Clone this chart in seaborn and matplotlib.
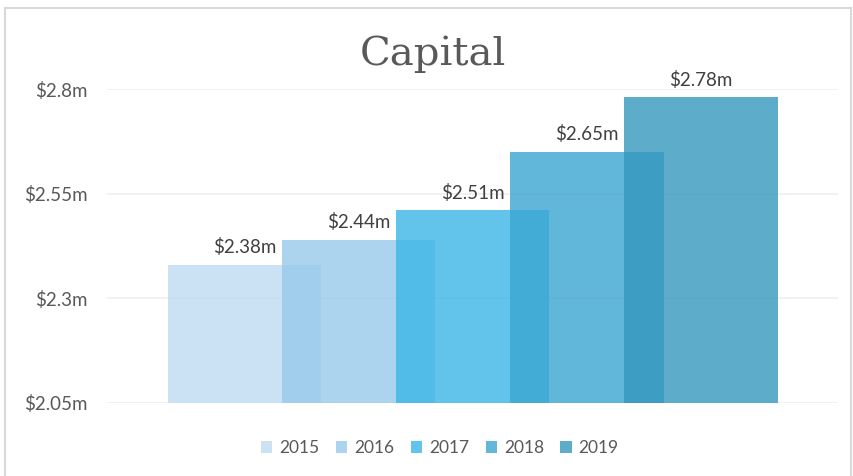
import matplotlib
matplotlib.use("Agg")
import matplotlib.pyplot as plt
import seaborn as sns
import pandas as pd
from matplotlib.patches import Rectangle, Patch

years = ["2015", "2016", "2017", "2018", "2019"]
values = [2.38, 2.44, 2.51, 2.65, 2.78]
labels = ["$2.38m", "$2.44m", "$2.51m", "$2.65m", "$2.78m"]
yticks = [2.05, 2.3, 2.55, 2.8]
ytick_labels = ["$2.05m", "$2.3m", "$2.55m", "$2.8m"]
colors = ["#BFDBF2", "#97CAEC", "#3BB6E7", "#3AA5D1", "#3497BD"]

df = pd.DataFrame({"year": years, "value": values})

sns.set_theme(style="white")
plt.rcParams["font.family"] = ["Lato", "DejaVu Sans"]

fig = plt.figure(figsize=(8.54, 4.76), dpi=100)
ax = fig.add_axes([107 / 854, 1 - 403 / 476, (838 - 107) / 854, (403 - 89) / 476])

sns.barplot(data=df, x="year", y="value", hue="year", palette=colors,
            width=1.342, alpha=0.8, dodge=False, legend=False, ax=ax,
            saturation=1, linewidth=0, edgecolor="none")

ax.set_ylim(2.05, 2.8)
ax.set_xlim(-1.206, 5.2)
ax.set_yticks(yticks)
ax.set_yticklabels(ytick_labels, color="#595959", fontsize=13.5)
ax.tick_params(axis="y", length=0, pad=14)
ax.set_xticks([])
ax.set_xlabel("")
ax.set_ylabel("")
for s in ax.spines.values():
    s.set_visible(False)
ax.yaxis.grid(True, color="#EFEFEF", linewidth=1.2)
ax.set_axisbelow(True)

for i, (v, lab) in enumerate(zip(values, labels)):
    ax.text(i, v + 0.02, lab, ha="center", va="bottom", fontsize=13.5,
            color="#404040")

fig.text(433 / 854, 1 - 54 / 476, "Capital", ha="center", va="center",
         fontsize=29, color="#595959", family=["DejaVu Serif"])

handles = [Patch(facecolor=c, alpha=0.8, edgecolor="none") for c in colors]
fig.legend(handles, years, loc="center", bbox_to_anchor=(440 / 854, 1 - 448 / 476),
           ncol=5, frameon=False, fontsize=12.5, handlelength=0.65, handleheight=0.65,
           columnspacing=0.95, handletextpad=0.4, labelcolor="#595959")

fig.patches.append(Rectangle((5.5 / 854, -0.1), (851 - 5.5) / 854, 1.1 - 7.5 / 476,
                             transform=fig.transFigure, fill=False,
                             edgecolor="#D9D9D9", linewidth=1.5))

fig.savefig("out.png", dpi=100, facecolor="white")
